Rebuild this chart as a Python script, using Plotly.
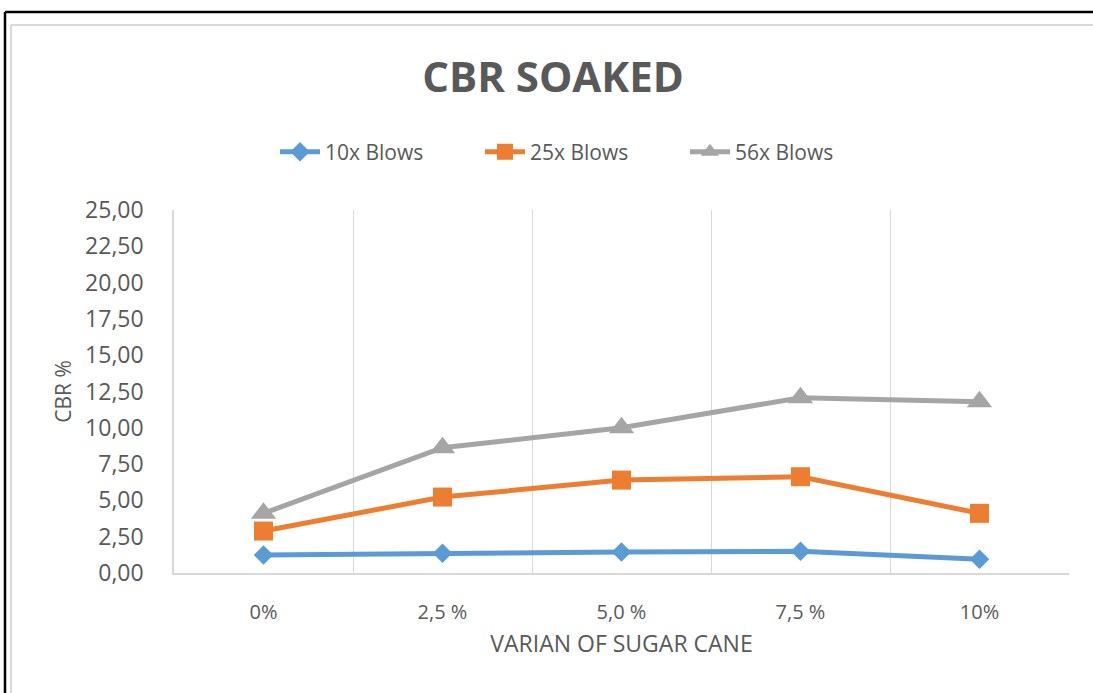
import plotly.graph_objects as go

categories = ["0%", "2,5 %", "5,0 %", "7,5 %", "10%"]
blows_10 = [1.24, 1.36, 1.45, 1.49, 0.94]
blows_25 = [2.89, 5.23, 6.40, 6.63, 4.11]
blows_56 = [4.11, 8.63, 10.00, 12.07, 11.80]
y_ticks = [0, 2.5, 5, 7.5, 10, 12.5, 15, 17.5, 20, 22.5, 25]

W, H = 1093, 693
ML, MR, MT, MB = 174, 24, 210, 120
PW, PH = W - ML - MR, H - MT - MB

def px(x):
    return (x - ML) / PW

def py(y):
    return (H - MB - y) / PH

xs = list(range(len(categories)))
TXT = "#595959"
FONT = "Open Sans"

fig = go.Figure()
fig.add_trace(go.Scatter(x=xs, y=blows_10, name="10x Blows", mode="lines+markers",
                         line=dict(color="#5B9BD5", width=5),
                         marker=dict(symbol="diamond", size=15, color="#5B9BD5")))
fig.add_trace(go.Scatter(x=xs, y=blows_25, name="25x Blows", mode="lines+markers",
                         line=dict(color="#ED7D31", width=5),
                         marker=dict(symbol="square", size=19, color="#ED7D31")))
fig.add_trace(go.Scatter(x=xs, y=blows_56, name="56x Blows", mode="lines+markers",
                         line=dict(color="#A5A5A5", width=5),
                         marker=dict(symbol="triangle-up", size=22, color="#A5A5A5")))

shapes = [
    dict(type="line", xref="paper", yref="paper", x0=px(5), x1=px(W + 5), y0=py(12), y1=py(12),
         line=dict(color="black", width=2.5)),
    dict(type="line", xref="paper", yref="paper", x0=px(5), x1=px(5), y0=py(12), y1=py(H + 5),
         line=dict(color="black", width=2.5)),
    dict(type="line", xref="paper", yref="paper", x0=px(11), x1=px(W + 5), y0=py(25), y1=py(25),
         line=dict(color="#D9D9D9", width=2)),
    dict(type="line", xref="paper", yref="paper", x0=px(11), x1=px(11), y0=py(25), y1=py(H + 5),
         line=dict(color="#D9D9D9", width=2)),
]

fig.update_layout(
    width=W, height=H,
    margin=dict(l=ML, r=MR, t=MT, b=MB),
    paper_bgcolor="white", plot_bgcolor="white",
    separators=",.",
    font=dict(family=FONT, color=TXT),
    title=dict(text="<b>CBR SOAKED</b>", font=dict(family=FONT, size=42, color=TXT),
               xref="paper", x=px(553), xanchor="center",
               yref="container", y=1 - 77 / H, yanchor="middle"),
    legend=dict(orientation="h", xref="paper", x=px(275), xanchor="left",
                yref="paper", y=py(152), yanchor="middle",
                font=dict(family=FONT, size=21, color=TXT), itemwidth=40,
                entrywidth=150, entrywidthmode="pixels",
                bgcolor="rgba(0,0,0,0)"),
    shapes=shapes,
    showlegend=True,
)

fig.update_xaxes(
    range=[-0.5, 4.5], tickmode="array", tickvals=xs, ticktext=categories,
    showgrid=False, zeroline=False, showline=True, linecolor="#D9D9D9", linewidth=1.5,
    ticks="", ticklabelstandoff=20,
    tickfont=dict(family=FONT, size=20, color=TXT),
    title=dict(text="VARIAN OF SUGAR CANE", font=dict(family=FONT, size=23, color=TXT), standoff=12),
    minor=dict(tickmode="array", tickvals=[-0.5, 0.5, 1.5, 2.5, 3.5, 4.5], showgrid=True,
               gridcolor="#D9D9D9", gridwidth=1, ticks=""),
)
fig.update_yaxes(
    range=[0, 25], tickmode="array", tickvals=y_ticks, tickformat=".2f",
    showgrid=False, zeroline=False, showline=True, linecolor="#D9D9D9", linewidth=1.5,
    ticks="", ticklabelstandoff=24,
    tickfont=dict(family=FONT, size=23, color=TXT),
    title=dict(text="CBR %", font=dict(family=FONT, size=21, color=TXT), standoff=8),
)

fig.write_html("out.html", config={"displayModeBar": False},
               post_script="document.body.style.margin='0';")
